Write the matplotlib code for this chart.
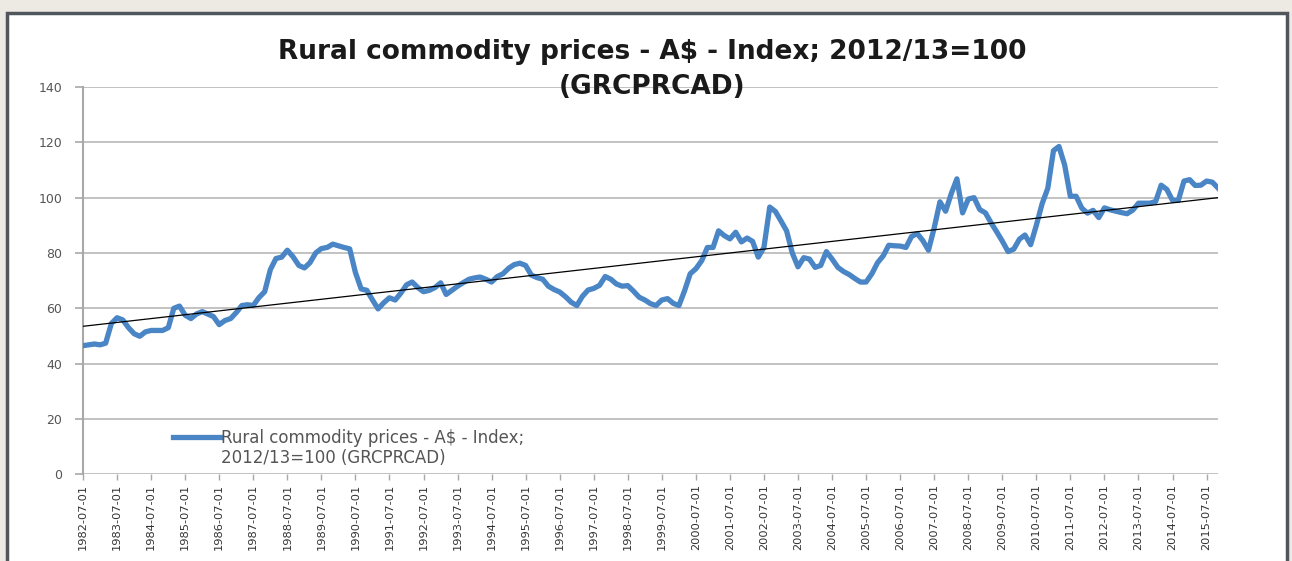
import numpy as np
import pandas as pd
import matplotlib
matplotlib.use("Agg")
import matplotlib.pyplot as plt
import matplotlib.dates as mdates
from matplotlib.patches import Rectangle

# bi-monthly readings, one row per year starting in July (Jul, Sep, Nov, Jan, Mar, May)
index_values = [
    46.5, 46.8, 47.1, 46.8, 47.4, 54.5,      # 1982/83
    56.6, 55.8, 53.0, 50.8, 49.9, 51.5,      # 1983/84
    52.0, 52.0, 52.0, 53.0, 60.0, 60.8,      # 1984/85
    57.5, 56.3, 58.0, 58.8, 57.9, 57.0,      # 1985/86
    54.1, 55.6, 56.3, 58.5, 61.0, 61.3,      # 1986/87
    61.0, 63.9, 66.0, 74.0, 78.0, 78.5,      # 1987/88
    81.0, 78.6, 75.5, 74.6, 76.5, 80.0,      # 1988/89
    81.6, 82.0, 83.2, 82.6, 82.0, 81.5,      # 1989/90
    73.0, 67.0, 66.5, 63.0, 59.8, 62.0,      # 1990/91
    63.8, 63.0, 65.5, 68.5, 69.5, 67.5,      # 1991/92
    66.0, 66.5, 67.5, 69.2, 65.0, 66.5,      # 1992/93
    68.0, 69.3, 70.5, 71.0, 71.3, 70.5,      # 1993/94
    69.5, 71.5, 72.5, 74.5, 75.8, 76.3,      # 1994/95
    75.5, 72.0, 71.1, 70.5, 68.0, 66.8,      # 1995/96
    65.9, 64.2, 62.2, 61.0, 64.3, 66.6,      # 1996/97
    67.2, 68.3, 71.5, 70.5, 68.8, 68.0,      # 1997/98
    68.2, 66.2, 64.0, 63.0, 61.7, 61.0,      # 1998/99
    63.0, 63.5, 61.8, 61.0, 66.3, 72.5,      # 1999/00
    74.3, 77.2, 82.0, 82.0, 88.0, 86.3,      # 2000/01
    85.1, 87.5, 84.0, 85.4, 84.2, 78.5,      # 2001/02
    82.0, 96.6, 95.0, 91.5, 88.0, 80.0,      # 2002/03
    75.0, 78.3, 77.8, 74.8, 75.5, 80.5,      # 2003/04
    77.8, 74.8, 73.3, 72.2, 70.8, 69.5,      # 2004/05
    69.5, 72.5, 76.5, 79.0, 82.8, 82.6,      # 2005/06
    82.5, 82.0, 86.0, 87.0, 84.5, 81.0,      # 2006/07
    89.0, 98.5, 95.1, 101.5, 106.8, 94.5,    # 2007/08
    99.5, 100.0, 95.7, 94.5, 91.0, 87.7,     # 2008/09
    84.3, 80.5, 81.4, 85.0, 86.5, 83.0,      # 2009/10
    90.0, 97.8, 103.4, 117.0, 118.5, 111.8,  # 2010/11
    100.5, 100.5, 96.2, 94.4, 95.4, 92.8,    # 2011/12
    96.3, 95.6, 95.1, 94.6, 94.2, 95.5,      # 2012/13
    98.0, 98.0, 98.0, 98.6, 104.5, 103.0,    # 2013/14
    99.0, 99.0, 106.0, 106.5, 104.4, 104.5,  # 2014/15
    106.0, 105.6, 103.5,                     # 2015/16
]
dates = pd.date_range("1982-07-01", periods=len(index_values), freq="2MS")
tick_dates = pd.date_range("1982-07-01", "2015-07-01", freq="12MS")
tick_labels = [d.strftime("%Y-%m-%d") for d in tick_dates]
series_name = "Rural commodity prices - A$ - Index;\n2012/13=100 (GRCPRCAD)"
title = "Rural commodity prices - A$ - Index; 2012/13=100\n(GRCPRCAD)"

fig = plt.figure(figsize=(12.92, 5.61), dpi=100)
fig.patch.set_facecolor("#ede9e3")
fig.patches.append(Rectangle((7 / 1292, -0.05), 1280 / 1292, 1 - 13 / 561 + 0.05,
                             transform=fig.transFigure, facecolor="white",
                             edgecolor="#50565b", linewidth=2.5, zorder=-1))

ax = fig.add_axes([83 / 1292, 1 - 474.3 / 561, 1135 / 1292, 387.3 / 561])
ax.set_facecolor("white")

x = mdates.date2num(dates)
ax.plot(dates, index_values, color="#4a86c6", lw=3.8, solid_joinstyle="round",
        label=series_name, zorder=3)
coef = np.polyfit(x, index_values, 1)
ax.plot(dates, np.polyval(coef, x), color="black", lw=0.9, zorder=4)

ax.set_ylim(0, 140)
ax.set_yticks(range(0, 141, 20))
ax.set_xlim(dates[0], dates[-1])
ax.set_xticks(tick_dates)
ax.set_xticklabels(tick_labels, rotation=90, fontsize=8.2,
                   family=["Liberation Sans Narrow", "DejaVu Sans"], color="#333333")
for lab in ax.get_yticklabels():
    lab.set_fontsize(9)
    lab.set_color("#555555")
    lab.set_family(["DejaVu Sans"])

ax.grid(axis="y", color="#bdbdbd", lw=1.3)
ax.set_axisbelow(True)
for s in ["top", "right", "bottom"]:
    ax.spines[s].set_visible(False)
ax.spines["left"].set_color("#a8a8a8")
ax.spines["left"].set_linewidth(1.5)
ax.tick_params(axis="y", length=6, color="#a8a8a8", width=1.2, pad=9)
ax.tick_params(axis="x", length=4, color="#a8a8a8", width=1.0, pad=3)

leg = ax.legend(loc="upper left", bbox_to_anchor=(0.0793, 0.116), frameon=False,
                handlelength=2.85, handletextpad=0.05, borderaxespad=0, borderpad=0,
                prop={"family": ["DejaVu Sans"], "size": 12})
for t in leg.get_texts():
    t.set_color("#555555")
    t.set_linespacing(1.1)
# put the legend swatch beside the first text line, as in the original
handle = leg.get_lines()[0]
handle.set_ydata(np.asarray(handle.get_ydata()) + 8.5)

fig.text(0.505, 0.8225, title, ha="center", va="bottom", fontsize=19,
         fontweight="bold", family=["DejaVu Sans"], color="#1a1a1a",
         linespacing=1.45)

fig.savefig("out.png", dpi=100, facecolor=fig.get_facecolor())
